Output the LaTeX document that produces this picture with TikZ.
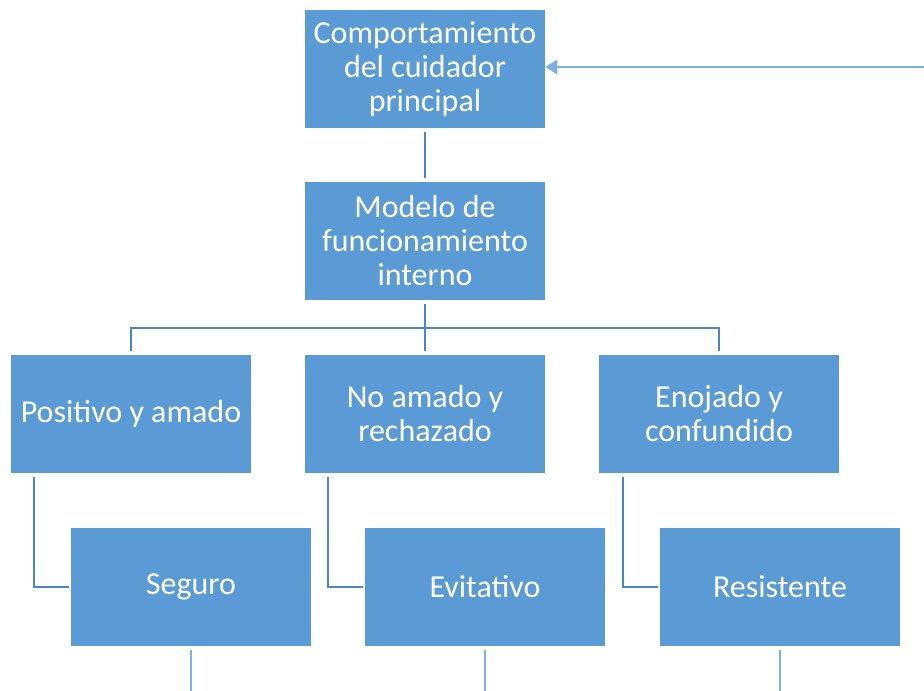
\documentclass[tikz,border=0pt]{standalone}
\usepackage{fontspec}
\setmainfont{Carlito}
\usetikzlibrary{arrows.meta}
\definecolor{boxblue}{HTML}{5B9BD5}
\definecolor{linkblue}{HTML}{4A86C5}
\definecolor{arrowblue}{HTML}{7EB0E0}
\begin{document}
\begin{tikzpicture}[x=0.75pt,y=-0.75pt,
  box/.style={fill=boxblue,draw=none,minimum width=180pt,minimum height=88.5pt,inner sep=0pt,
    text=white,align=center,font=\fontsize{24}{25.5}\selectfont},
  link/.style={draw=linkblue,line width=1.6pt},
  thin/.style={draw=arrowblue,line width=1.2pt}]
\useasboundingbox (0,0) rectangle (924,691);
\node[box] (top) at (425,69) {Comportamiento\\del cuidador\\principal};
\node[box] (mod) at (425,241) {Modelo de\\funcionamiento\\interno};
\node[box] (pos) at (131,414) {Positivo y amado};
\node[box] (no) at (425,414) {No amado y\\rechazado};
\node[box] (eno) at (719,414) {Enojado y\\confundido};
\node[box] (seg) at (191,587) {Seguro};
\node[box] (evi) at (485,587) {Evitativo};
\node[box] (res) at (780,587) {Resistente};
\coordinate (arrstart) at (924,67);
\coordinate (bus) at (425,328);
\coordinate (e1) at (191,691);
\coordinate (e2) at (485,691);
\coordinate (e3) at (780,691);
% arrow
\draw[thin,-{Triangle[length=9pt,width=11pt]}] (arrstart) -- (top.east |- arrstart);
% top to modelo
\draw[link] ([yshift=-3pt]top.south) -- ([yshift=3pt]mod.north);
% modelo to branches
\draw[link] ([yshift=-3pt]mod.south) -- (bus);
\draw[link] ([yshift=3pt]pos.north) -- (pos.north |- bus) -- (eno.north |- bus) -- ([yshift=3pt]eno.north);
\draw[link] (bus) -- ([yshift=3pt]no.north);
% level 2 to level 3
\draw[link] ([xshift=17.25pt,yshift=-3pt]pos.south west) |- ([xshift=-1pt]seg.west);
\draw[link] ([xshift=17.25pt,yshift=-3pt]no.south west) |- ([xshift=-1pt]evi.west);
\draw[link] ([xshift=18pt,yshift=-3pt]eno.south west) |- ([xshift=-1pt]res.west);
% bottom stubs
\draw[thin] ([yshift=-3pt]seg.south) -- (e1);
\draw[thin] ([yshift=-3pt]evi.south) -- (e2);
\draw[thin] ([yshift=-3pt]res.south) -- (e3);
\end{tikzpicture}
\end{document}
